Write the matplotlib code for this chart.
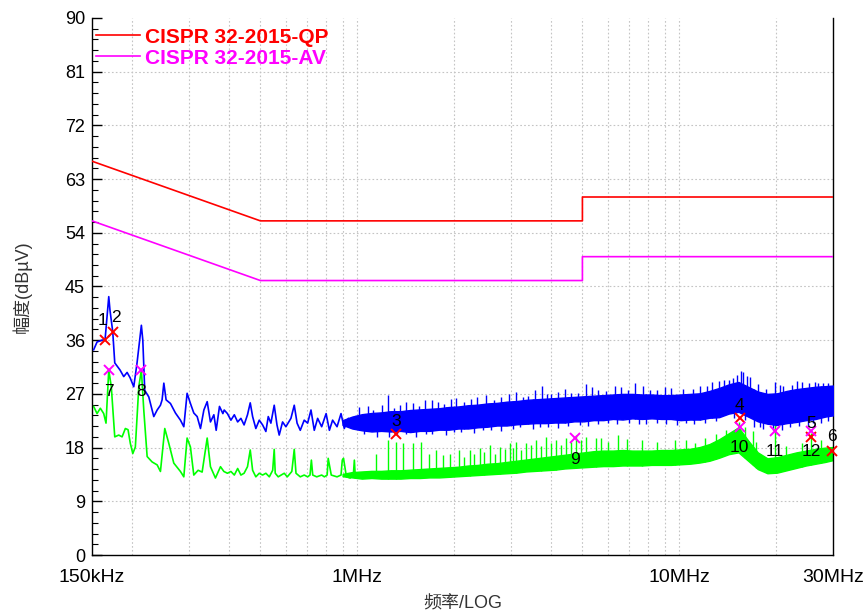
import numpy as np
import matplotlib.pyplot as plt
from matplotlib.ticker import FixedLocator, MultipleLocator, AutoMinorLocator, NullFormatter

plt.rcParams['font.family'] = ['Liberation Sans', 'Noto Sans CJK SC', 'DejaVu Sans']

# limit lines (MHz, dBuV)
qp_lim_f = [0.15, 0.5, 5, 5, 30]
qp_lim_db = [66, 56, 56, 60, 60]
av_lim_f = [0.15, 0.5, 5, 5, 30]
av_lim_db = [56, 46, 46, 50, 50]

# peak trace, low band (read point by point)
blue_f = [0.1518, 0.1555, 0.1611, 0.1647, 0.1691, 0.1706, 0.1740, 0.1765, 0.1833, 0.1882,
          0.1928, 0.1970, 0.2022, 0.2070, 0.2135, 0.2157, 0.2187, 0.2251, 0.2333, 0.2390,
          0.2447, 0.2476, 0.2507, 0.2548, 0.2628, 0.2724, 0.2823, 0.2892, 0.2961, 0.3032,
          0.3106, 0.3182, 0.3258, 0.3338, 0.3418, 0.3499, 0.3585, 0.3645, 0.3732, 0.3824,
          0.386, 0.395, 0.405, 0.415, 0.425, 0.435, 0.445, 0.456, 0.465, 0.473,
          0.484, 0.496, 0.508, 0.520, 0.529, 0.539, 0.552, 0.563, 0.572, 0.586,
          0.600, 0.622, 0.637, 0.650, 0.665, 0.684, 0.701, 0.718, 0.735, 0.753,
          0.775, 0.800, 0.819, 0.838, 0.865, 0.890, 0.911, 0.938, 0.967, 0.991, 1.015, 1.039]
blue_db = [34.4, 35.7, 36.0, 36.1, 43.3, 41.0, 37.4, 32.2, 31.0, 29.9,
           30.6, 29.7, 28.2, 32.2, 38.5, 36.0, 27.6, 26.5, 23.2, 24.3,
           25.1, 26.0, 28.8, 26.0, 25.4, 23.8, 22.6, 21.5, 27.1, 25.4,
           23.8, 23.2, 21.2, 24.3, 25.7, 22.3, 23.5, 20.9, 24.9, 23.7,
           24.3, 23.7, 22.6, 23.5, 22.3, 22.9, 21.8, 23.5, 25.5, 23.2,
           21.2, 22.6, 21.8, 20.7, 23.2, 22.1, 25.1, 21.8, 20.1, 22.3,
           21.5, 22.9, 25.1, 22.1, 20.9, 22.6, 22.1, 24.3, 20.9, 22.9,
           21.5, 23.7, 20.9, 22.6, 21.5, 23.7, 21.2, 22.9, 21.5, 23.2, 21.8, 22.9]

# dense band above ~0.9 MHz: frequencies where the band edges were read
band_f = [0.9, 0.964, 1.033, 1.107, 1.186, 1.271, 1.362, 1.459, 1.563, 1.675,
          1.795, 1.923, 2.061, 2.208, 2.366, 2.535, 2.716, 2.911, 3.119, 3.342,
          3.581, 3.836, 4.111, 4.405, 4.719, 5.057, 5.418, 5.806, 6.221, 6.665,
          7.142, 7.652, 8.199, 8.785, 9.413, 10.09, 10.81, 11.58, 12.41, 13.29,
          14.24, 15.26, 16.35, 17.52, 18.77, 20.12, 21.55, 23.09, 24.74, 26.51,
          28.41, 30.0]
blue_band_lo = [21.8, 21.2, 20.9, 20.7, 20.8, 20.7, 20.8, 20.6, 20.8, 20.8,
                21.0, 21.0, 21.2, 21.2, 21.4, 21.5, 21.7, 21.7, 21.9, 22.0,
                22.1, 22.1, 22.2, 22.2, 22.4, 22.4, 22.6, 22.6, 22.8, 22.7,
                22.9, 22.8, 22.9, 22.8, 22.8, 22.6, 22.7, 22.7, 23.0, 23.1,
                23.7, 24.0, 23.2, 22.4, 22.0, 21.8, 22.1, 22.3, 22.6, 22.8,
                23.2, 23.4]
blue_band_hi = [22.6, 23.2, 23.6, 23.8, 23.9, 24.1, 24.1, 24.3, 24.4, 24.5,
                24.6, 24.8, 24.9, 25.1, 25.2, 25.4, 25.5, 25.7, 25.8, 26.0,
                26.1, 26.2, 26.3, 26.4, 26.5, 26.6, 26.7, 26.8, 26.9, 27.0,
                27.0, 26.9, 26.9, 26.8, 26.8, 26.9, 27.0, 27.1, 27.5, 28.0,
                28.6, 29.0, 28.2, 27.4, 27.0, 27.1, 27.5, 27.8, 28.0, 28.2,
                28.3, 28.4]
green_band_lo = [13.2, 13.0, 12.8, 12.9, 12.8, 12.8, 12.8, 12.9, 12.9, 13.0,
                 13.0, 13.1, 13.2, 13.3, 13.4, 13.5, 13.6, 13.7, 13.8, 14.0,
                 14.1, 14.2, 14.3, 14.5, 14.6, 14.7, 14.8, 14.9, 14.9, 15.0,
                 15.0, 15.0, 15.1, 15.1, 15.1, 15.2, 15.3, 15.5, 15.8, 16.3,
                 16.9, 17.2, 15.8, 14.4, 13.7, 13.8, 14.2, 14.6, 15.0, 15.3,
                 15.6, 15.9]
green_band_hi = [13.6, 13.9, 14.0, 14.1, 14.1, 14.2, 14.2, 14.3, 14.4, 14.5,
                 14.6, 14.7, 14.8, 15.0, 15.1, 15.3, 15.4, 15.6, 15.8, 16.0,
                 16.2, 16.4, 16.6, 16.8, 17.0, 17.2, 17.4, 17.5, 17.5, 17.6,
                 17.5, 17.5, 17.5, 17.6, 17.6, 17.7, 17.8, 18.1, 18.6, 19.4,
                 20.4, 21.4, 19.2, 17.2, 16.2, 16.4, 16.8, 17.2, 17.5, 17.8,
                 18.0, 18.1]

# single spikes standing out of the bands
blue_spike_f = [1.08, 1.243, 1.36, 1.486, 1.62, 1.78, 2.028, 2.25, 2.514, 2.80,
                3.116, 3.40, 3.753, 4.00, 4.20, 4.60, 5.14, 5.6, 6.3, 7.27,
                8.1, 9.0, 11.0, 12.6, 13.8, 14.69, 15.1, 15.49, 15.78, 16.2,
                16.56, 19.8, 21.0, 24.0, 27.0, 29.0,
                1.01, 1.12, 1.19, 1.30, 1.42, 1.55, 1.70, 1.86, 1.95, 2.14,
                2.36, 2.65, 2.95, 3.26, 3.55, 3.88, 4.40, 4.85, 5.35, 5.9,
                6.6, 6.95, 7.7, 8.5, 9.4, 10.3, 11.6, 12.2, 13.3, 14.3,
                17.5, 18.6, 20.5, 22.3, 23.2, 25.3, 26.3, 28.0]
blue_spike_db = [25.0, 26.8, 25.2, 25.4, 25.9, 25.6, 26.3, 26.1, 26.8, 26.4,
                 27.4, 26.6, 28.3, 27.0, 27.4, 27.1, 28.7, 27.6, 28.4, 28.8,
                 27.6, 28.2, 27.9, 29.0, 29.3, 29.6, 30.2, 30.9, 30.6, 30.0,
                 29.9, 29.0, 28.3, 29.0, 28.8, 28.8,
                 24.8, 24.3, 25.2, 24.7, 25.6, 25.0, 25.9, 25.3, 26.1, 25.7,
                 26.5, 26.0, 27.0, 26.5, 27.6, 26.9, 27.9, 27.2, 28.1, 27.5,
                 28.2, 27.6, 28.3, 27.7, 28.0, 27.9, 28.4, 28.4, 29.2, 29.4,
                 28.6, 27.9, 28.5, 28.5, 29.1, 28.9, 29.0, 28.8]
blue_dip_f = [1.15, 1.42, 1.7, 2.1, 2.6, 3.2, 3.9, 4.9, 6.0, 7.9,
              9.8, 12.0, 17.0, 18.2, 19.5, 23.5, 27.5,
              1.05, 1.25, 1.33, 1.52, 1.63, 1.88, 2.0, 2.3, 2.45, 2.8,
              3.05, 3.5, 3.7, 4.2, 4.5, 5.2, 5.6, 6.4, 7.0, 7.5,
              8.5, 9.1, 10.5, 11.1, 13.0, 14.8, 16.0, 17.8, 20.8, 22.0,
              25.0, 26.0, 29.0]
blue_dip_db = [19.8, 20.3, 20.2, 20.6, 21.0, 21.5, 21.4, 21.8, 22.2, 22.0,
               21.8, 22.2, 21.5, 21.2, 21.0, 21.6, 22.2,
               20.3, 19.8, 20.3, 19.7, 20.2, 20.1, 20.6, 20.4, 20.9, 20.8,
               21.2, 21.1, 21.5, 21.3, 21.7, 21.6, 21.9, 21.9, 22.2, 21.9,
               22.2, 21.9, 22.1, 21.9, 22.5, 23.0, 22.6, 21.4, 21.0, 21.4,
               21.8, 22.2, 22.5]

green_spike_f = [1.143, 1.243, 1.320, 1.384, 1.486, 1.578, 1.674, 1.757, 1.842, 1.934,
                 2.076, 2.15, 2.231, 2.31, 2.396, 2.48, 2.574, 2.67, 2.765, 2.87,
                 2.970, 3.04, 3.116, 3.23, 3.348, 3.47, 3.596, 3.73, 3.863, 4.00,
                 4.149, 4.30, 4.457, 4.62, 4.788, 4.95, 5.14, 5.52, 5.73, 6.0,
                 6.45, 6.9, 7.63, 8.5, 9.68, 10.5, 11.2, 12.0, 13.0, 14.0,
                 15.3, 16.0, 16.96, 17.3, 19.8, 21.5, 23.97, 25.6, 27.5]
green_spike_db = [17.0, 19.3, 19.0, 18.8, 18.8, 19.0, 17.0, 17.6, 16.8, 17.0,
                  17.6, 16.5, 17.6, 17.0, 17.9, 17.2, 18.4, 17.0, 18.1, 17.8,
                  18.7, 18.0, 19.0, 17.6, 18.7, 18.5, 19.3, 18.2, 19.8, 18.8,
                  19.3, 18.5, 19.6, 19.0, 20.1, 19.2, 19.8, 19.6, 19.6, 19.0,
                  20.1, 19.4, 19.3, 19.0, 19.3, 19.2, 18.8, 19.6, 20.2, 21.0,
                  22.3, 21.5, 20.7, 19.0, 22.6, 18.3, 18.7, 20.4, 19.2]

# average trace, low band
green_f = [0.1518, 0.1555, 0.1592, 0.1631, 0.1658, 0.1691, 0.1722, 0.1765, 0.1816, 0.1860,
           0.1904, 0.1941, 0.1973, 0.2008, 0.2045, 0.2096, 0.2135, 0.2172, 0.2225, 0.2305,
           0.2390, 0.2447, 0.2524, 0.2598, 0.2692, 0.2823, 0.2892, 0.2961, 0.3032, 0.3106,
           0.3204, 0.3297, 0.3418, 0.3499, 0.3626, 0.3759, 0.3851,
           0.395, 0.405, 0.415, 0.425, 0.435, 0.445, 0.456, 0.465, 0.473, 0.484,
           0.496, 0.508, 0.520, 0.533, 0.546, 0.552, 0.556, 0.568, 0.580, 0.593,
           0.606, 0.626, 0.637, 0.645, 0.665, 0.684, 0.701, 0.713, 0.720, 0.727,
           0.748, 0.775, 0.790, 0.806, 0.812, 0.830, 0.865, 0.890, 0.898, 0.906,
           0.925, 0.950, 0.972, 0.979, 0.986, 1.015, 1.039]
green_db = [24.9, 23.7, 24.6, 23.7, 22.1, 31.0, 28.2, 19.8, 20.1, 19.8,
            21.2, 21.0, 18.7, 17.0, 18.1, 28.2, 31.0, 24.3, 16.5, 15.6,
            15.1, 14.0, 21.2, 18.7, 15.4, 14.0, 13.1, 19.6, 18.1, 13.4,
            14.2, 13.9, 19.6, 14.8, 12.9, 14.8, 14.0,
            13.7, 14.0, 13.4, 14.5, 13.4, 13.7, 14.8, 17.6, 14.2, 13.1,
            13.7, 13.4, 13.7, 13.1, 14.2, 17.7, 13.7, 13.1, 13.4, 13.7,
            13.1, 14.0, 17.7, 13.7, 13.1, 13.4, 13.1, 13.4, 15.9, 13.4,
            13.1, 13.4, 13.1, 13.4, 16.2, 13.4, 13.1, 13.4, 15.9, 16.2,
            13.1, 12.9, 13.4, 15.9, 12.9, 13.1, 13.4]

# marked readings
qp_mark_f = [0.1647, 0.1740, 1.32, 15.4, 25.6, 29.8]
qp_mark_db = [36.0, 37.4, 20.3, 22.9, 19.7, 17.5]
qp_mark_lbl = ['1', '2', '3', '4', '5', '6']
av_mark_f = [0.1691, 0.2135, 4.75, 15.4, 19.8, 25.6]
av_mark_db = [31.0, 31.0, 19.6, 21.5, 20.8, 20.8]
av_mark_lbl = ['7', '8', '9', '10', '11', '12']

x_ticks = [0.15, 1, 10, 30]
x_tick_lbl = ['150kHz', '1MHz', '10MHz', '30MHz']
x_grid = [0.2, 0.3, 0.4, 0.5, 0.6, 0.7, 0.8, 0.9, 2, 3, 4, 5, 6, 7, 8, 9, 20]

fig = plt.figure(figsize=(8.68, 6.14), dpi=100)
ax = fig.add_axes([92 / 868, 1 - 555 / 614, 741 / 868, 537 / 614])
ax.set_xscale('log')
ax.set_xlim(0.15, 30)
ax.set_ylim(0, 90)

# grid
for g in x_grid + [1, 10]:
    ax.axvline(g, color='#c4c4c4', ls=(0, (1.5, 2)), lw=0.8, zorder=0)
for g in range(9, 90, 9):
    ax.axhline(g, color='#c4c4c4', ls=(0, (1.5, 2)), lw=0.8, zorder=0)

green = '#00FF00'
blue = '#0000FF'

# average trace
ax.fill_between(band_f, green_band_lo, green_band_hi, color=green, lw=1.0, zorder=2)
ax.vlines(green_spike_f, np.interp(green_spike_f, band_f, green_band_lo),
          green_spike_db, color=green, lw=1.0, zorder=2)
ax.plot(green_f, green_db, color=green, lw=1.2, zorder=2)

# peak trace
ax.fill_between(band_f, blue_band_lo, blue_band_hi, color=blue, lw=1.0, zorder=3)
ax.vlines(blue_spike_f, np.interp(blue_spike_f, band_f, blue_band_lo),
          blue_spike_db, color=blue, lw=1.0, zorder=3)
ax.vlines(blue_dip_f, blue_dip_db, np.interp(blue_dip_f, band_f, blue_band_hi),
          color=blue, lw=1.0, zorder=3)
ax.plot(blue_f, blue_db, color=blue, lw=1.2, zorder=3)

# limits
l1, = ax.plot(qp_lim_f, qp_lim_db, color='#FF0000', lw=1.2, zorder=4, label='CISPR 32-2015-QP')
l2, = ax.plot(av_lim_f, av_lim_db, color='#FF00FF', lw=1.2, zorder=4, label='CISPR 32-2015-AV')

# markers
ax.plot(qp_mark_f, qp_mark_db, 'x', color='#FF0000', ms=7, mew=1.4, zorder=6, clip_on=False)
ax.plot(av_mark_f, av_mark_db, 'x', color='#FF00FF', ms=7, mew=1.4, zorder=6, clip_on=False)
qp_off = [(-3, 20), (3, 14), (0, 12), (0, 13), (0, 14), (0, 14)]
for f, v, s, off in zip(qp_mark_f, qp_mark_db, qp_mark_lbl, qp_off):
    ax.annotate(s, (f, v), xytext=off, textcoords='offset pixels', ha='center',
                va='center', fontsize=12.5, zorder=7, annotation_clip=False)
for f, v, s in zip(av_mark_f, av_mark_db, av_mark_lbl):
    ax.annotate(s, (f, v), xytext=(0, -21), textcoords='offset pixels', ha='center',
                va='center', fontsize=12.5, zorder=7, annotation_clip=False)

leg = ax.legend(handles=[l1, l2], loc='upper left', bbox_to_anchor=(0.006, 0.982),
                frameon=False, handlelength=2.1, handletextpad=0.25, borderaxespad=0,
                borderpad=0, labelspacing=0.1, prop={'weight': 'bold', 'size': 15})
for t, c in zip(leg.get_texts(), ['#FF0000', '#FF00FF']):
    t.set_color(c)

# axes styling
ax.xaxis.set_major_locator(FixedLocator(x_ticks))
ax.xaxis.set_major_formatter(plt.FixedFormatter(x_tick_lbl))
ax.xaxis.set_minor_locator(FixedLocator(x_grid))
ax.xaxis.set_minor_formatter(NullFormatter())
ax.tick_params(axis='x', which='both', length=0, labelsize=14, pad=10)
ax.yaxis.set_major_locator(MultipleLocator(9))
ax.yaxis.set_minor_locator(AutoMinorLocator(5))
ax.tick_params(axis='y', which='major', direction='in', length=7, width=1, labelsize=13, pad=5)
ax.tick_params(axis='y', which='minor', direction='in', length=4, width=0.8)
ax.spines['top'].set_visible(False)
for s in ['left', 'right', 'bottom']:
    ax.spines[s].set_linewidth(1.0)

ax.set_xlabel('频率/LOG', fontsize=13, color='#333333', labelpad=7)
ax.set_ylabel('幅度(dBµV)', fontsize=13, color='#333333', labelpad=24)

fig.savefig('out.png', dpi=100)
